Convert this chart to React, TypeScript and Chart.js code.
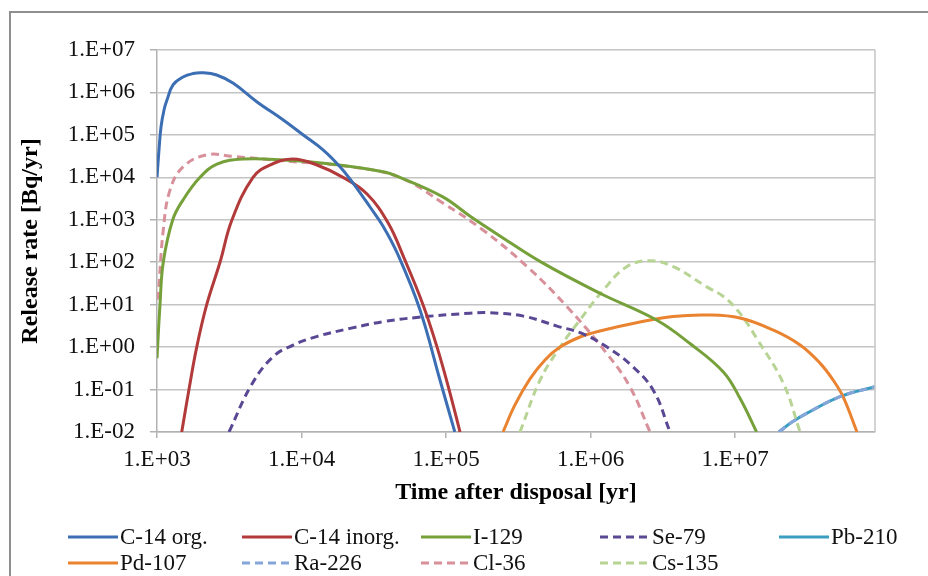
import React, { useEffect, useRef } from "react";
import { Chart, registerables } from "chart.js";

Chart.register(...registerables);

// Time after disposal [yr] and release rate [Bq/yr] per nuclide
const c14OrgT = [1000, 1032, 1066, 1118, 1172, 1291, 1514, 1774, 2050, 2590, 3375, 4900, 7480, 10290, 14150, 18460, 22800, 29800, 36600, 46600, 66100, 90800, 115000];
const c14OrgV = [1e4, 4.4e4, 1.53e5, 3.86e5, 6.6e5, 1.5e6, 2.31e6, 2.79e6, 2.92e6, 2.58e6, 1.64e6, 6.05e5, 2.24e5, 9.95e4, 4.4e4, 1.78e4, 7240, 2000, 715, 148, 7.5, 0.168, 0.01];

const c14InorgT = [1483, 1664, 1883, 2208, 2729, 3304, 4617, 6050, 8730, 12790, 19360, 28400, 39700, 51200, 69300, 86700, 105000, 125000];
const c14InorgV = [0.01, 0.1, 1, 10, 100, 1000, 1e4, 1.95e4, 2.7e4, 1.95e4, 1e4, 4050, 850, 126, 10, 1, 0.1, 0.01];

const i129T = [1000, 1049, 1105, 1285, 1516, 1985, 2600, 3940, 7450, 16500, 36600, 47900, 95000, 146000, 236000, 469000, 1.16e6, 2.86e6, 4.9e6, 8.3e6, 1.08e7, 1.41e7];
const i129V = [0.55, 10, 100, 1000, 2950, 1e4, 2.04e4, 2.7e4, 2.57e4, 2.04e4, 1.35e4, 1e4, 3470, 1230, 417, 95, 18.6, 4.36, 1.2, 0.26, 0.063, 0.01];

const se79T = [3150, 4510, 6380, 8770, 12700, 21700, 36800, 62700, 146600, 202000, 343000, 586000, 887000, 1.3e6, 1.87e6, 2.71e6, 3.55e6];
const se79V = [0.01, 0.13, 0.6, 1.12, 1.77, 2.76, 3.98, 5.0, 6.3, 6.45, 5.37, 3.13, 2.05, 1.0, 0.4, 0.098, 0.01];

const pb210T = [2.01e7, 2.48e7, 3.13e7, 5.33e7, 9.3e7];
const pb210V = [0.01, 0.0172, 0.0275, 0.068, 0.117];

const pd107T = [248000, 300000, 381000, 484000, 615000, 846000, 1.16e6, 2.2e6, 3.72e6, 6.4e6, 1.08e7, 1.83e7, 2.82e7, 3.87e7, 4.77e7, 5.6e7, 6.98e7];
const pd107V = [0.01, 0.0434, 0.178, 0.498, 1.0, 1.73, 2.4, 3.91, 5.27, 5.71, 4.86, 2.54, 1.12, 0.42, 0.168, 0.067, 0.01];

const ra226T = [2.01e7, 2.48e7, 3.13e7, 5.33e7, 9.3e7];
const ra226V = [0.01, 0.0172, 0.0275, 0.068, 0.117];

const cl36T = [1000, 1021, 1105, 1230, 1520, 2210, 3375, 7480, 21700, 47900, 95500, 180000, 364000, 688000, 1.29e6, 1.87e6, 2.58e6];
const cl36V = [13, 18.6, 575, 5000, 1.78e4, 3.4e4, 3.1e4, 2.45e4, 1.78e4, 1e4, 2450, 575, 79, 8.9, 0.72, 0.117, 0.01];

const cs135T = [325000, 448000, 615000, 845000, 1.23e6, 1.78e6, 2.57e6, 3.74e6, 6.37e6, 8.3e6, 1.08e7, 1.41e7, 2.16e7, 2.82e7];
const cs135V = [0.01, 0.168, 1.0, 4.36, 22.3, 78.5, 109, 78.5, 26.3, 15.6, 6.3, 1.62, 0.14, 0.01];

const xTicks = [1e3, 1e4, 1e5, 1e6, 1e7];
const yTicks = [1e-2, 1e-1, 1e0, 1e1, 1e2, 1e3, 1e4, 1e5, 1e6, 1e7];

const X_TITLE = "Time after disposal [yr]";
const Y_TITLE = "Release rate [Bq/yr]";

const SERIF = "'Liberation Serif', 'Times New Roman', serif";
const GRID = "#c4c4c4";
const AXIS = "#b2b2b2";
const DASH = [8, 5];

const zip = (t: number[], v: number[]) => t.map((x, i) => ({ x, y: v[i] }));

const sci = (v: number) => {
  const e = Math.round(Math.log10(v));
  return `1.E${e < 0 ? "-" : "+"}${String(Math.abs(e)).padStart(2, "0")}`;
};

// legend: 5 columns, 2 rows under the x-axis title
const LEGEND_X = [68, 242, 421, 600, 779];
const LEGEND_Y = [537, 563];

const decorPlugin = {
  id: "decor",
  afterDraw(chart: any) {
    const { ctx, chartArea } = chart;
    ctx.save();

    // outer frame
    ctx.strokeStyle = "#8f8f8f";
    ctx.lineWidth = 2;
    ctx.beginPath();
    ctx.moveTo(10, 580);
    ctx.lineTo(10, 12);
    ctx.lineTo(930, 12);
    ctx.stroke();

    // right edge of plot area
    ctx.strokeStyle = GRID;
    ctx.lineWidth = 1.5;
    ctx.beginPath();
    ctx.moveTo(chartArea.right, chartArea.top);
    ctx.lineTo(chartArea.right, chartArea.bottom);
    ctx.stroke();

    // axis titles
    ctx.fillStyle = "#000";
    ctx.font = `bold 24px ${SERIF}`;
    ctx.textAlign = "center";
    ctx.textBaseline = "middle";
    ctx.fillText(X_TITLE, (chartArea.left + chartArea.right) / 2, 493);
    ctx.save();
    ctx.translate(31, (chartArea.top + chartArea.bottom) / 2);
    ctx.rotate(-Math.PI / 2);
    ctx.fillText(Y_TITLE, 0, 0);
    ctx.restore();

    // legend
    ctx.font = `23px ${SERIF}`;
    ctx.textAlign = "left";
    chart.data.datasets.forEach((ds: any, i: number) => {
      const x0 = LEGEND_X[i % 5];
      const y = LEGEND_Y[Math.floor(i / 5)];
      ctx.strokeStyle = ds.borderColor;
      ctx.lineWidth = 3;
      ctx.setLineDash(ds.borderDash || []);
      ctx.beginPath();
      ctx.moveTo(x0, y);
      ctx.lineTo(x0 + 50, y);
      ctx.stroke();
      ctx.setLineDash([]);
      ctx.fillStyle = "#111";
      ctx.fillText(ds.label, x0 + 52, y + 1);
    });
    ctx.restore();
  },
};

export default function App() {
  const ref = useRef<HTMLCanvasElement | null>(null);

  useEffect(() => {
    if (!ref.current) return;
    const series = (label: string, t: number[], v: number[], color: string, dashed = false, order = 0) => ({
      label,
      data: zip(t, v),
      borderColor: color,
      backgroundColor: color,
      borderWidth: 3,
      borderDash: dashed ? DASH : [],
      pointRadius: 0,
      fill: false,
      order,
      tension: 0.4,
    });

    const chart = new Chart(ref.current, {
      type: "line",
      data: {
        datasets: [
          series("C-14 org.", c14OrgT, c14OrgV, "#3C6EB4"),
          series("C-14 inorg.", c14InorgT, c14InorgV, "#B23A3A"),
          series("I-129", i129T, i129V, "#76A03A"),
          series("Se-79", se79T, se79V, "#5A4894", true),
          series("Pb-210", pb210T, pb210V, "#3A9EC2", false, 1),
          series("Pd-107", pd107T, pd107V, "#EA8330"),
          series("Ra-226", ra226T, ra226V, "#86A6DA", true, -1),
          series("Cl-36", cl36T, cl36V, "#D8909A", true),
          series("Cs-135", cs135T, cs135V, "#B8D494", true),
        ],
      },
      options: {
        responsive: false,
        maintainAspectRatio: false,
        animation: false,
        devicePixelRatio: 1,
        layout: { padding: { left: 0, top: 50, right: 53, bottom: 104 } },
        plugins: { legend: { display: false }, tooltip: { enabled: false } },
        scales: {
          x: {
            type: "logarithmic",
            min: 1000,
            max: 9.3e7,
            afterBuildTicks: (s: any) => {
              s.ticks = xTicks.map((value) => ({ value }));
            },
            afterFit: (s: any) => {
              s.height = 40;
            },
            grid: { drawOnChartArea: false, drawTicks: true, tickLength: 6, color: AXIS, lineWidth: 1.5 },
            border: { display: true, color: AXIS, width: 1.5 },
            ticks: {
              autoSkip: false,
              maxRotation: 0,
              padding: 8,
              color: "#111",
              font: { family: SERIF, size: 23 },
              callback: (v: any) => sci(Number(v)),
            },
          },
          y: {
            type: "logarithmic",
            min: 1e-2,
            max: 1e7,
            afterBuildTicks: (s: any) => {
              s.ticks = yTicks.map((value) => ({ value }));
            },
            afterFit: (s: any) => {
              s.width = 157;
            },
            grid: { color: GRID, lineWidth: 1.5, drawTicks: true, tickLength: 7, tickColor: AXIS },
            border: { display: true, color: AXIS, width: 1.5 },
            ticks: {
              autoSkip: false,
              padding: 15,
              color: "#111",
              font: { family: SERIF, size: 23 },
              callback: (v: any) => sci(Number(v)),
            },
          },
        },
      },
      plugins: [decorPlugin],
    });
    return () => chart.destroy();
  }, []);

  return (
    <div style={{ position: "absolute", left: 0, top: 0, width: 928, height: 576, background: "#fff" }}>
      <canvas ref={ref} width={928} height={576} style={{ display: "block" }} />
    </div>
  );
}
